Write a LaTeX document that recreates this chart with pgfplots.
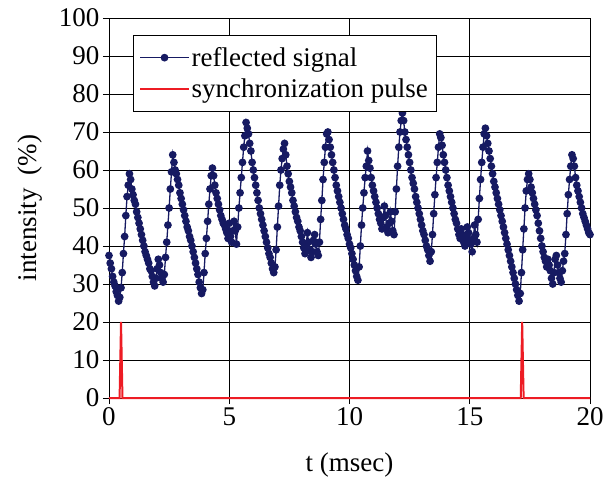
\documentclass[border=0pt]{standalone}
\usepackage{fontspec}
\setmainfont{Liberation Serif}
\usepackage{pgfplots}
\usepackage{pgfplotstable}
\pgfplotsset{compat=1.18}
\definecolor{sig}{RGB}{22,26,98}
\definecolor{pulse}{RGB}{237,28,36}
\pgfplotstableread{
x y
0.00 37.5
0.05 35.5
0.10 34.0
0.15 32.0
0.20 30.5
0.25 29.5
0.30 28.0
0.35 27.0
0.40 25.5
0.45 26.5
0.50 29.0
0.55 33.0
0.60 38.0
0.65 42.5
0.70 48.0
0.75 53.0
0.80 56.0
0.85 59.0
0.90 57.5
0.95 55.0
1.00 53.5
1.05 52.0
1.10 51.0
1.15 49.0
1.20 47.5
1.25 46.0
1.30 44.5
1.35 43.0
1.40 41.5
1.45 40.0
1.50 38.5
1.55 37.5
1.60 36.5
1.65 35.5
1.70 34.0
1.75 33.5
1.80 32.0
1.85 30.5
1.90 29.5
1.95 31.5
2.00 34.0
2.05 36.5
2.10 35.0
2.15 33.0
2.20 31.5
2.25 30.5
2.30 32.5
2.35 37.0
2.40 41.0
2.45 45.5
2.50 50.0
2.55 55.0
2.60 59.5
2.65 64.0
2.70 62.0
2.75 60.0
2.80 59.0
2.85 57.5
2.90 56.0
2.95 54.0
3.00 52.5
3.05 51.0
3.10 49.5
3.15 48.0
3.20 46.5
3.25 45.0
3.30 44.0
3.35 42.5
3.40 41.5
3.45 40.0
3.50 38.5
3.55 37.0
3.60 35.5
3.65 34.0
3.70 32.5
3.75 30.5
3.80 29.0
3.85 27.5
3.90 28.5
3.95 33.0
4.00 38.0
4.05 42.0
4.10 46.5
4.15 51.0
4.20 55.0
4.25 58.5
4.30 60.5
4.35 58.5
4.40 56.0
4.45 54.0
4.50 52.5
4.55 51.0
4.60 49.5
4.65 48.0
4.70 47.0
4.75 46.0
4.80 45.5
4.85 44.5
4.90 43.5
4.95 42.0
5.00 46.0
5.05 42.5
5.10 41.0
5.15 44.0
5.20 46.5
5.25 44.0
5.30 40.5
5.35 45.0
5.40 50.0
5.45 54.0
5.50 58.0
5.55 62.0
5.60 66.0
5.65 69.0
5.70 72.5
5.75 71.0
5.80 69.5
5.85 67.0
5.90 65.0
5.95 62.0
6.00 60.0
6.05 58.0
6.10 56.0
6.15 54.0
6.20 52.0
6.25 50.0
6.30 48.5
6.35 47.0
6.40 45.5
6.45 44.0
6.50 42.5
6.55 41.0
6.60 39.5
6.65 38.0
6.70 37.0
6.75 35.5
6.80 34.0
6.85 33.0
6.90 34.5
6.95 39.0
7.00 45.0
7.05 50.5
7.10 56.0
7.15 60.0
7.20 63.0
7.25 65.5
7.30 67.0
7.35 64.0
7.40 61.0
7.45 59.0
7.50 57.0
7.55 55.5
7.60 54.0
7.65 52.0
7.70 50.5
7.75 49.0
7.80 47.5
7.85 46.5
7.90 45.0
7.95 44.0
8.00 42.5
8.05 41.0
8.10 39.5
8.15 38.0
8.20 40.5
8.25 43.5
8.30 41.0
8.35 39.0
8.40 37.0
8.45 38.5
8.50 41.5
8.55 43.0
8.60 40.5
8.65 38.5
8.70 37.5
8.75 41.0
8.80 47.0
8.85 52.0
8.90 57.5
8.95 62.0
9.00 66.0
9.05 69.5
9.10 70.0
9.15 68.0
9.20 66.0
9.25 64.0
9.30 62.0
9.35 60.0
9.40 58.0
9.45 56.0
9.50 54.5
9.55 53.0
9.60 51.5
9.65 50.0
9.70 48.5
9.75 47.0
9.80 45.5
9.85 44.5
9.90 43.0
9.95 42.0
10.00 40.5
10.05 39.5
10.10 38.0
10.15 36.5
10.20 35.0
10.25 33.5
10.30 32.0
10.35 31.0
10.40 34.5
10.45 40.0
10.50 45.5
10.55 50.0
10.60 54.0
10.65 58.0
10.70 61.0
10.75 65.0
10.80 62.5
10.85 60.5
10.90 58.0
10.95 56.0
11.00 54.5
11.05 53.0
11.10 51.5
11.15 50.0
11.20 48.5
11.25 47.0
11.30 46.0
11.35 44.5
11.40 47.5
11.45 50.5
11.50 48.0
11.55 45.0
11.60 43.5
11.65 46.0
11.70 49.0
11.75 46.5
11.80 44.0
11.85 43.0
11.90 49.0
11.95 55.0
12.00 61.0
12.05 66.0
12.10 70.0
12.15 73.0
12.20 75.0
12.25 73.0
12.30 70.0
12.35 68.0
12.40 66.0
12.45 64.0
12.50 62.0
12.55 60.0
12.60 58.0
12.65 56.5
12.70 55.0
12.75 53.0
12.80 51.5
12.85 50.0
12.90 48.5
12.95 47.0
13.00 45.5
13.05 44.0
13.10 43.0
13.15 41.5
13.20 40.0
13.25 39.0
13.30 37.5
13.35 36.0
13.40 38.5
13.45 43.0
13.50 48.5
13.55 53.5
13.60 58.0
13.65 62.0
13.70 66.0
13.75 69.5
13.80 68.5
13.85 66.5
13.90 64.0
13.95 62.0
14.00 60.0
14.05 58.0
14.10 56.0
14.15 54.5
14.20 53.0
14.25 51.5
14.30 50.0
14.35 48.5
14.40 47.0
14.45 46.0
14.50 44.5
14.55 43.0
14.60 42.0
14.65 44.5
14.70 43.0
14.75 41.0
14.80 40.0
14.85 42.0
14.90 45.0
14.95 43.5
15.00 41.5
15.05 40.5
15.10 38.5
15.15 42.0
15.20 45.5
15.25 43.0
15.30 41.0
15.35 47.0
15.40 52.5
15.45 57.5
15.50 62.0
15.55 66.0
15.60 69.5
15.65 71.0
15.70 69.0
15.75 67.0
15.80 65.0
15.85 63.0
15.90 61.0
15.95 59.0
16.00 57.0
16.05 55.5
16.10 54.0
16.15 52.5
16.20 51.0
16.25 49.5
16.30 48.0
16.35 46.5
16.40 45.0
16.45 43.5
16.50 42.0
16.55 40.5
16.60 39.0
16.65 37.5
16.70 36.0
16.75 34.5
16.80 33.0
16.85 31.5
16.90 30.0
16.95 28.5
17.00 27.0
17.05 25.5
17.10 27.5
17.15 33.0
17.20 39.0
17.25 44.5
17.30 50.0
17.35 54.5
17.40 57.5
17.45 59.0
17.50 57.5
17.55 55.5
17.60 54.0
17.65 52.5
17.70 51.0
17.75 49.5
17.80 48.0
17.85 46.0
17.90 44.0
17.95 42.0
18.00 40.0
18.05 38.5
18.10 37.0
18.15 36.0
18.20 34.5
18.25 36.5
18.30 35.0
18.35 33.5
18.40 31.5
18.45 30.0
18.50 33.0
18.55 36.5
18.60 37.5
18.65 35.0
18.70 33.0
18.75 31.5
18.80 30.5
18.85 33.5
18.90 36.0
18.95 38.0
19.00 43.0
19.05 48.5
19.10 53.5
19.15 57.5
19.20 61.0
19.25 64.0
19.30 63.0
19.35 61.0
19.40 58.0
19.45 56.0
19.50 54.5
19.55 53.0
19.60 51.5
19.65 50.0
19.70 48.5
19.75 47.5
19.80 46.5
19.85 45.5
19.90 44.5
19.95 43.5
20.00 43.0
}\signal
\pgfplotstableread{
x y
0.00 0
0.44 0
0.50 20
0.56 0
17.12 0
17.18 20
17.24 0
20.00 0
}\pulse
\begin{document}
\begin{tikzpicture}
\begin{axis}[
  scale only axis, width=481pt, height=380pt,
  xmin=0, xmax=20, ymin=0, ymax=100,
  clip=false,
  xtick={0,5,10,15,20}, ytick={0,10,...,100},
  grid=major, major grid style={black, line width=0.6pt},
  axis line style={black, line width=0.8pt},
  tick align=outside, tick pos=left, major tick length=6pt,
  tick style={black, line width=0.6pt},
  /pgf/number format/assume math mode=true,
  tick label style={font=\fontsize{27}{31}\selectfont},
  label style={font=\fontsize{27}{31}\selectfont},
  xlabel={t (msec)}, ylabel={intensity\ \ (\%)},
  xlabel style={at={(axis description cs:0.5,-0.176)}, anchor=center},
  ylabel style={at={(axis description cs:-0.164,0.5)}, anchor=center},
  legend style={at={(0.05,0.955)}, anchor=north west, font=\fontsize{27}{31}\selectfont,
    draw=black, line width=0.6pt, inner xsep=6pt, inner ysep=10pt, row sep=7pt, cells={anchor=west}},
  legend image code/.code={\draw[mark repeat=2,mark phase=2,#1] plot coordinates {(0cm,0cm) (0.85cm,0cm) (1.7cm,0cm)};},
]
\addplot[color=sig, line width=1.3pt, mark=*, mark size=3.2pt, mark options={fill=sig}] table[x=x,y=y] {\signal};
\addlegendentry{reflected signal}
\addplot[color=pulse, line width=2pt] table[x=x,y=y] {\pulse};
\addlegendentry{synchronization pulse}
\end{axis}
\path ([shift={(-109pt,-81pt)}]current axis.south west) rectangle ([shift={(23pt,18pt)}]current axis.north east);
\end{tikzpicture}
\end{document}
